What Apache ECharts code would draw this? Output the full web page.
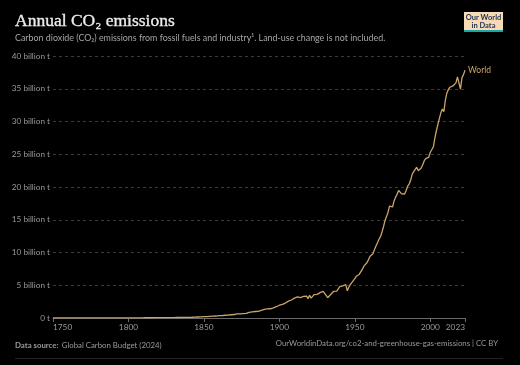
<!DOCTYPE html>
<html><head><meta charset="utf-8">
<script src="https://cdn.jsdelivr.net/npm/echarts@6/dist/echarts.min.js"></script>
<style>html,body{margin:0;padding:0;background:#000;}#c{width:520px;height:365px;}</style>
</head><body><div id="c"></div>
<script>
const startYear = 1750;
const seriesName = 'World';
// Annual CO2 emissions, billion tonnes, 1750..2023
const worldEmissions = [
0.009,0.009,0.009,0.009,0.009,0.009,0.010,0.010,0.010,0.010,
0.011,0.011,0.011,0.011,0.011,0.011,0.011,0.012,0.012,0.012,
0.012,0.013,0.013,0.013,0.013,0.014,0.014,0.014,0.014,0.014,
0.014,0.015,0.015,0.015,0.016,0.016,0.017,0.017,0.018,0.018,
0.019,0.019,0.020,0.020,0.021,0.021,0.022,0.022,0.023,0.024,
0.028,0.029,0.030,0.030,0.031,0.032,0.032,0.033,0.034,0.034,
0.035,0.036,0.037,0.038,0.038,0.040,0.040,0.041,0.042,0.042,
0.043,0.045,0.047,0.049,0.051,0.054,0.056,0.058,0.061,0.064,
0.068,0.070,0.073,0.076,0.079,0.083,0.087,0.090,0.093,0.097,
0.101,0.106,0.111,0.117,0.124,0.140,0.152,0.165,0.176,0.186,
0.197,0.200,0.218,0.232,0.262,0.275,0.293,0.300,0.302,0.326,
0.361,0.379,0.373,0.397,0.422,0.446,0.454,0.489,0.496,0.526,
0.532,0.576,0.625,0.658,0.626,0.669,0.681,0.692,0.700,0.755,
0.856,0.892,0.938,1.000,0.994,1.000,1.010,1.060,1.160,1.160,
1.320,1.390,1.390,1.370,1.410,1.510,1.560,1.620,1.720,1.860,
1.950,2.030,2.070,2.280,2.280,2.400,2.580,2.880,2.750,2.870,
3.030,3.070,3.220,3.470,3.120,3.050,3.290,3.430,3.350,2.960,
3.470,3.040,3.150,3.560,3.550,3.610,3.540,3.870,3.840,4.070,
3.780,3.440,3.100,3.350,3.590,3.760,4.080,4.310,4.110,4.370,
4.780,4.910,4.900,5.050,5.110,4.150,4.690,5.090,5.410,5.200,
6.000,6.380,6.460,6.690,6.830,7.450,7.920,8.200,8.430,8.880,
9.390,9.420,9.800,10.420,11.000,11.480,12.030,12.430,13.130,13.930,
14.900,15.480,16.150,17.090,17.000,16.950,17.880,18.450,18.880,19.480,
19.310,18.940,18.780,18.930,19.460,20.120,20.450,21.060,21.940,22.350,
22.700,23.030,22.490,22.670,22.910,23.410,24.010,24.340,24.290,24.570,
25.310,25.590,26.100,27.430,28.550,29.510,30.440,31.330,31.890,31.500,
33.280,34.360,34.900,35.230,35.460,35.430,35.440,35.900,36.800,37.100,
34.950,36.700,37.150,37.850
];
const xTickYears = [1750, 1800, 1850, 1900, 1950, 2000, 2023];
const yTicks = [0, 5, 10, 15, 20, 25, 30, 35, 40];

const data = worldEmissions.map((v, i) => [startYear + i, v]);
const chart = echarts.init(document.getElementById('c'), null, {renderer: 'canvas'});
const lineColor = '#c9a46c';
chart.setOption({
  backgroundColor: '#000',
  animation: false,
  title: [{
    text: 'Annual CO₂ emissions',
    left: 15, top: 12, padding: 0,
    textStyle: {fontFamily: 'Liberation Serif', fontSize: 17.5, fontWeight: 'normal', color: '#ececec',
      textBorderColor: '#ececec', textBorderWidth: 0.35}
  }, {
    text: 'Carbon dioxide (CO₂) emissions from fossil fuels and industry¹. Land-use change is not included.',
    left: 15, top: 34, padding: 0,
    textStyle: {fontFamily: 'Lato', fontSize: 8.9, fontWeight: 'normal', color: '#a6a6a6'}
  }],
  grid: {left: 53, right: 55, top: 56, bottom: 47, containLabel: false},
  xAxis: {
    type: 'value', min: 1750, max: 2023,
    axisLine: {show: true, lineStyle: {color: '#6b6b6b', width: 1}},
    axisTick: {show: true, customValues: xTickYears, length: 4, lineStyle: {color: '#6b6b6b'}},
    axisLabel: {customValues: xTickYears, color: '#9a9a9a', fontFamily: 'Lato', fontSize: 8.3, margin: 5,
      alignMinLabel: 'left', alignMaxLabel: 'right', formatter: v => String(v)},
    splitLine: {show: false}
  },
  yAxis: {
    type: 'value', min: 0, max: 40, interval: 5,
    axisLine: {show: false}, axisTick: {show: false},
    axisLabel: {color: '#9a9a9a', fontFamily: 'Lato', fontSize: 8.2, margin: 3,
      formatter: v => v === 0 ? '0 t' : v + ' billion t'},
    splitLine: {show: true, lineStyle: {color: '#3a3a3a', type: [3, 3], width: 1}}
  },
  series: [{
    name: seriesName, type: 'line', data: data, showSymbol: false, symbol: 'none',
    lineStyle: {color: lineColor, width: 1.3},
    endLabel: {show: true, formatter: '{a}', color: lineColor, fontFamily: 'Lato', fontSize: 8.5, distance: 3},
    z: 3
  }],
  graphic: [
    {type: 'rect', shape: {x: 464, y: 12, width: 39, height: 19}, style: {fill: '#f8dbb4'}},
    {type: 'rect', shape: {x: 464, y: 30, width: 39, height: 2}, style: {fill: '#1aa6a6'}},
    {type: 'text', x: 483.5, y: 14, style: {text: 'Our World\nin Data', fill: '#1c3157', font: 'bold 7.5px Lato', align: 'center', lineHeight: 8}},
    {type: 'text', x: 15, y: 339, style: {rich: {b: {font: 'bold 7.8px Lato', fill: '#9a9a9a'}, n: {font: '7.8px Lato', fill: '#9a9a9a'}}, text: '{b|Data source:} {n|Global Carbon Budget (2024)}'}},
    {type: 'text', x: 498, y: 339, style: {text: 'OurWorldinData.org/co2-and-greenhouse-gas-emissions | CC BY', font: '7.8px Lato', fill: '#9a9a9a', align: 'right'}},
    {type: 'rect', shape: {x: 15, y: 358, width: 488, height: 1}, style: {fill: '#222'}}
  ]
});
</script></body></html>
